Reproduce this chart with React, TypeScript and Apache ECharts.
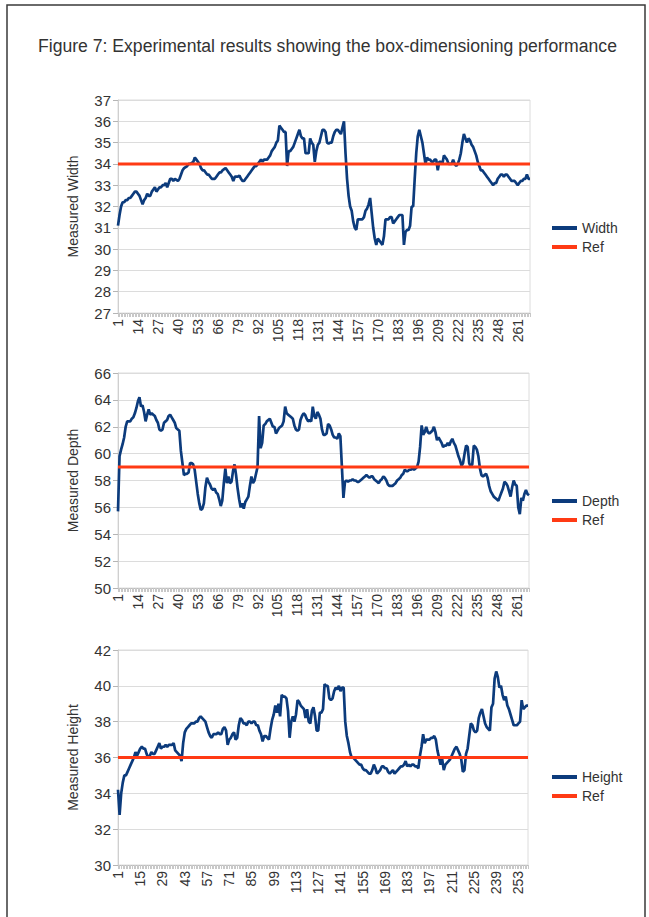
import React, { useEffect, useRef } from "react";
import * as echarts from "echarts";

const titleText = "Figure 7: Experimental results showing the box-dimensioning performance";

const widthValues = [
  31.1, 31.6, 32.0, 32.2, 32.2, 32.3, 32.3, 32.4, 32.4, 32.5,
  32.6, 32.7, 32.7, 32.6, 32.5, 32.3, 32.1, 32.3, 32.4, 32.6,
  32.5, 32.5, 32.7, 32.8, 32.9, 32.7, 32.8, 32.9, 32.9, 33.0,
  33.0, 33.1, 32.9, 33.1, 33.3, 33.3, 33.2, 33.3, 33.25, 33.2,
  33.3, 33.5, 33.7, 33.8, 33.85, 33.9, 34.0, 34.0, 34.05, 34.1,
  34.3, 34.2, 34.1, 34.0, 33.8, 33.7, 33.7, 33.6, 33.5, 33.5,
  33.4, 33.3, 33.3, 33.3, 33.4, 33.5, 33.6, 33.6, 33.7, 33.75,
  33.8, 33.7, 33.6, 33.5, 33.4, 33.2, 33.4, 33.4, 33.4, 33.45,
  33.3, 33.2, 33.2, 33.3, 33.4, 33.5, 33.6, 33.7, 33.8, 33.9,
  33.9, 34.0, 34.1, 34.2, 34.1, 34.2, 34.2, 34.2, 34.3, 34.4,
  34.6, 34.7, 34.8, 35.0, 35.1, 35.8, 35.7, 35.6, 35.5, 35.5,
  33.9, 34.6, 34.6, 34.7, 34.8, 35.0, 35.2, 35.4, 35.6, 35.3,
  35.2, 35.2, 34.5, 34.5, 34.5, 35.2, 35.0, 34.9, 34.1, 34.6,
  34.9, 35.0, 35.3, 35.6, 35.6, 35.5, 35.0, 34.95, 35.0, 35.0,
  35.3, 35.5, 35.6, 35.6, 35.5, 35.4, 35.7, 36.0, 34.5, 33.3,
  32.5, 32.0, 31.8, 31.3, 31.0, 30.9, 31.4, 31.4, 31.4, 31.4,
  31.5, 31.8, 31.9, 32.1, 32.4, 31.7, 31.0, 30.5, 30.2, 30.5,
  30.4, 30.3, 30.2, 30.6, 31.4, 31.4, 31.4, 31.5, 31.5, 31.2,
  31.3, 31.4, 31.5, 31.6, 31.6, 31.6, 30.2, 30.8, 30.9, 30.9,
  31.1, 32.0, 32.0, 33.3, 34.5, 35.3, 35.6, 35.3, 35.0, 34.5,
  34.0, 34.3, 34.2, 34.2, 34.1, 34.1, 34.2, 34.2, 33.7, 34.1,
  34.1, 34.0, 34.4, 34.3, 34.2, 34.0, 34.0, 34.0, 34.2, 34.0,
  33.9, 34.0, 34.2, 34.5, 35.0, 35.4, 35.2, 35.0, 35.2, 35.1,
  34.9, 34.8, 34.6, 34.4, 34.1, 33.9, 33.7, 33.7, 33.6, 33.5,
  33.4, 33.3, 33.2, 33.1, 33.0, 33.1, 33.1, 33.3, 33.4, 33.5,
  33.5, 33.4, 33.5, 33.5, 33.4, 33.3, 33.2, 33.2, 33.2, 33.1,
  33.0, 33.1, 33.2, 33.2, 33.3, 33.3, 33.5, 33.3, 33.3,
];

const depthValues = [
  55.7, 59.8, 60.3, 60.7, 61.2, 62.0, 62.4, 62.4, 62.4, 62.6,
  62.7, 63.0, 63.4, 63.9, 64.2, 63.5, 63.6, 63.1, 62.4, 62.9,
  63.3, 62.9, 63.0, 62.9, 62.8, 62.5, 62.3, 61.8, 61.7, 61.8,
  62.3, 62.4, 62.5, 62.8, 62.9, 62.7, 62.5, 62.3, 61.9, 61.8,
  61.7, 60.2, 59.3, 58.4, 58.5, 58.5, 58.6, 59.3, 59.3, 59.2,
  58.8, 57.9, 57.0, 56.3, 55.8, 55.9, 56.3, 57.5, 58.2, 57.9,
  57.7, 57.4, 57.3, 57.4, 57.1, 57.0, 56.6, 56.1, 56.5, 57.8,
  58.9, 57.8, 58.3, 57.8, 57.9, 58.7, 59.2, 58.4, 57.4, 56.6,
  56.0, 56.3, 55.9, 56.4, 56.6, 56.8, 57.6, 58.3, 57.8, 58.0,
  58.5, 59.0, 62.8, 60.4, 60.8, 62.1, 62.2, 62.4, 62.5, 62.6,
  62.3, 62.0, 62.0, 61.5, 61.7, 61.9, 62.0, 62.1, 62.4, 63.5,
  63.0, 62.9, 62.8, 62.7, 62.6, 62.1, 61.8, 61.7, 61.8, 62.5,
  62.8, 63.0, 62.9, 62.6, 62.4, 62.5, 62.4, 63.5, 62.8, 62.6,
  63.1, 62.9, 62.6, 61.8, 61.4, 61.4, 61.5, 62.2, 62.1, 61.8,
  61.4, 61.2, 61.2, 61.1, 61.5, 61.3, 59.0, 56.7, 57.9, 58.0,
  57.9, 58.0, 58.0, 58.1, 58.0, 58.0, 57.9, 57.9, 58.0, 58.1,
  58.2, 58.3, 58.4, 58.3, 58.2, 58.3, 58.3, 58.1, 58.0, 57.9,
  57.8, 58.0, 58.1, 58.3, 58.2, 58.0, 57.7, 57.6, 57.6, 57.6,
  57.7, 57.8, 58.0, 58.1, 58.2, 58.4, 58.5, 58.8, 58.7, 58.7,
  58.8, 58.8, 58.9, 58.8, 58.9, 59.0, 59.4, 60.5, 62.1, 61.4,
  61.6, 62.0, 61.6, 61.5, 61.6, 61.7, 62.0, 61.6, 61.0, 61.2,
  61.0, 60.8, 60.5, 60.6, 60.6, 60.8, 60.6, 60.9, 61.1, 60.8,
  60.6, 60.2, 59.8, 59.5, 59.1, 59.3, 60.0, 60.6, 60.5, 59.3,
  59.0, 59.2, 60.6, 60.5, 60.3, 59.8, 58.9, 58.4, 58.3, 58.4,
  58.5, 58.2, 57.6, 57.2, 57.0, 56.8, 56.7, 56.6, 56.5, 56.8,
  57.1, 57.4, 57.9, 57.8, 57.6, 57.2, 56.8, 57.5, 58.0, 57.7,
  57.6, 56.0, 55.5, 56.7, 56.5, 57.0, 57.3, 57.0, 56.9,
];

const heightValues = [
  34.2, 32.8, 34.0, 34.6, 35.0, 35.0, 35.2, 35.4, 35.6, 35.8,
  36.0, 36.3, 36.1, 36.3, 36.5, 36.6, 36.5, 36.5, 36.2, 36.0,
  36.1, 36.3, 36.2, 36.2, 36.4, 36.6, 36.8, 36.5, 36.6, 36.6,
  36.7, 36.6, 36.7, 36.7, 36.7, 36.8, 36.4, 36.3, 36.2, 36.1,
  35.8, 36.8, 37.4, 37.6, 37.7, 37.8, 37.9, 37.9, 37.9, 38.0,
  38.0, 38.2, 38.3, 38.2, 38.1, 38.0, 37.7, 37.4, 37.2, 37.1,
  37.3, 37.3, 37.3, 37.4, 37.3, 37.3, 37.6, 37.7, 37.5, 36.7,
  37.0, 37.1, 37.3, 37.4, 37.0, 37.1, 37.8, 38.2, 38.1, 37.9,
  37.9, 37.8, 38.0, 38.0, 37.9, 38.0, 38.0, 37.8, 37.8, 37.5,
  37.3, 36.9, 37.2, 37.2, 37.1, 37.0, 37.6, 38.1, 38.4, 38.9,
  38.5, 39.0, 38.3, 39.5, 39.4, 39.4, 39.3, 38.6, 37.1, 38.0,
  38.3, 38.0, 38.4, 39.2, 39.1, 38.9, 38.8, 38.7, 38.2, 38.7,
  38.0, 37.9, 38.6, 38.8, 38.3, 37.5, 37.5, 38.5, 38.5, 38.7,
  40.1, 40.0, 40.0, 39.3, 39.2, 39.3, 39.7, 39.9, 39.8, 40.0,
  39.7, 39.9, 39.9, 38.0, 37.2, 36.8, 36.3, 36.0, 36.0, 35.9,
  35.8, 35.7, 35.6, 35.6, 35.4, 35.3, 35.3, 35.2, 35.1, 35.1,
  35.3, 35.6, 35.4, 35.1, 35.2, 35.3, 35.5, 35.5, 35.4, 35.4,
  35.2, 35.1, 35.2, 35.3, 35.1, 35.2, 35.3, 35.4, 35.5, 35.5,
  35.6, 35.8, 35.5, 35.6, 35.5, 35.6, 35.6, 35.5, 35.5, 35.4,
  36.1, 36.6, 37.3, 36.8, 37.0, 37.0, 37.0, 37.1, 37.1, 37.2,
  37.0, 36.4, 36.0, 35.6, 35.9, 35.3, 35.6, 35.7, 35.8, 35.9,
  36.1, 36.3, 36.5, 36.6, 36.4, 36.2, 35.9, 35.2, 35.3, 36.2,
  36.5, 37.2, 37.9, 37.8, 37.5, 37.4, 37.5, 38.2, 38.5, 38.7,
  38.3, 37.9, 37.7, 37.6, 37.5, 38.8, 39.0, 40.4, 40.8, 40.5,
  39.9, 40.0, 39.5, 39.2, 39.4, 38.9, 38.7, 38.4, 38.1, 37.8,
  37.8, 37.8, 37.9, 38.0, 39.2, 38.7, 38.8, 38.9, 38.9,
];

const refWidth = 34;
const refDepth = 59;
const refHeight = 36;

const panelNames = ["Width", "Depth", "Height"];
const axisTitles = ["Measured Width", "Measured Depth", "Measured Height"];
const yMins = [27, 50, 30];
const yMaxs = [37, 66, 42];
const yIntervals = [1, 2, 2];
const labelIntervals = [12, 12, 13];

const FONT = "'Liberation Sans', Arial, Helvetica, sans-serif";
const DATA_COLOR = "#0c3b7c";
const REF_COLOR = "#ff3a14";

export default function App() {
  const ref = useRef<HTMLDivElement>(null);
  useEffect(() => {
    document.body.style.margin = "0";
    const chart = echarts.init(ref.current!, null, { renderer: "svg" });

    const seriesData = [widthValues, depthValues, heightValues];
    const refs = [refWidth, refDepth, refHeight];
    const grids = [
      { left: 118, top: 100, width: 412, height: 213 },
      { left: 118, top: 373, width: 411, height: 215 },
      { left: 118, top: 650, width: 410, height: 215 },
    ];
    const legendTops = [216, 489, 765];

    const xAxis: any[] = [];
    const yAxis: any[] = [];
    const series: any[] = [];
    const legend: any[] = [];

    for (let p = 0; p < 3; p++) {
      const vals = seriesData[p];
      const cats = vals.map((_, i) => String(i + 1));
      xAxis.push({
        type: "category",
        gridIndex: p,
        data: cats,
        boundaryGap: false,
        axisLine: { show: true, lineStyle: { color: "#bdbdbd", width: 1 } },
        axisTick: { show: true, interval: 0, length: 4, lineStyle: { color: "#c8c8c8", width: 1 } },
        axisLabel: {
          interval: labelIntervals[p],
          rotate: 90,
          fontSize: 14,
          color: "#333",
          fontFamily: FONT,
          margin: 6,
        },
        splitLine: { show: false },
      });
      yAxis.push({
        type: "value",
        gridIndex: p,
        min: yMins[p],
        max: yMaxs[p],
        interval: yIntervals[p],
        name: axisTitles[p],
        nameLocation: "middle",
        nameRotate: 90,
        nameGap: 38,
        nameTextStyle: { fontSize: 14, color: "#333", fontFamily: FONT },
        axisLine: { show: true, lineStyle: { color: "#cfcfcf" } },
        axisTick: { show: true, length: 5, lineStyle: { color: "#b5b5b5" } },
        axisLabel: { fontSize: 15, color: "#333", fontFamily: FONT, margin: 7 },
        splitLine: { show: true, lineStyle: { color: "#dcdcdc", width: 1 } },
      });
      series.push({
        name: panelNames[p],
        type: "line",
        xAxisIndex: p,
        yAxisIndex: p,
        data: vals,
        showSymbol: false,
        symbol: "none",
        lineStyle: { color: DATA_COLOR, width: 2.7 },
        itemStyle: { color: DATA_COLOR },
      });
      series.push({
        name: "Ref" + p,
        type: "line",
        xAxisIndex: p,
        yAxisIndex: p,
        data: new Array(vals.length).fill(refs[p]),
        showSymbol: false,
        symbol: "none",
        lineStyle: { color: REF_COLOR, width: 3 },
        itemStyle: { color: REF_COLOR },
        z: 3,
      });
      legend.push({
        data: [panelNames[p], "Ref" + p],
        orient: "vertical",
        left: 547,
        top: legendTops[p],
        itemWidth: 25,
        itemHeight: 4,
        itemGap: 5,
        icon: "rect",
        formatter: (n: string) => (n.startsWith("Ref") ? "Ref" : n),
        textStyle: { fontSize: 14, color: "#333", fontFamily: FONT },
      });
    }

    chart.setOption({
      animation: false,
      backgroundColor: "#ffffff",
      grid: grids.map((g) => ({ ...g, show: true, borderColor: "#dcdcdc", borderWidth: 1, containLabel: false })),
      xAxis,
      yAxis,
      series,
      legend,
      graphic: [
        {
          type: "rect",
          shape: { x: 7, y: 5, width: 638, height: 960 },
          style: { fill: "none", stroke: "#3a3a3a", lineWidth: 1.5 },
          silent: true,
        },
        {
          type: "text",
          x: 38,
          y: 46,
          style: {
            text: titleText,
            fontSize: 17.6,
            fontFamily: FONT,
            fill: "#333",
            verticalAlign: "middle",
          },
        },
      ],
    });
    return () => chart.dispose();
  }, []);
  return <div ref={ref} style={{ width: 649, height: 917, background: "#fff" }} />;
}
